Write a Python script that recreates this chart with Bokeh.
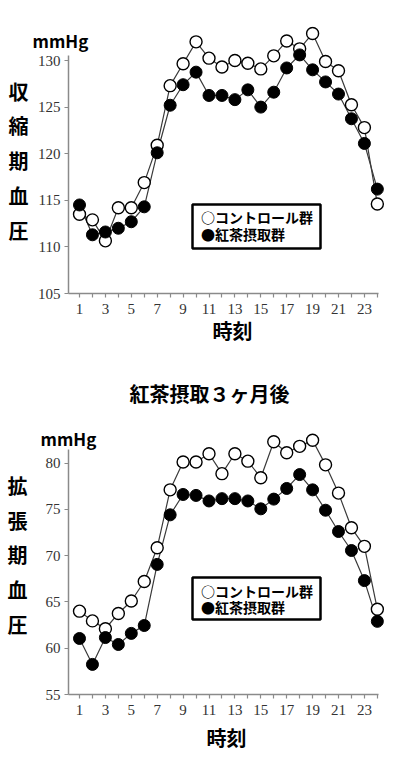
from bokeh.plotting import figure
from bokeh.layouts import column
from bokeh.models import FixedTicker, Label, BoxAnnotation
from bokeh.embed import file_html
from bokeh.resources import INLINE

# ---------------- data ----------------
hours = list(range(1, 25))
sys_control = [113.5, 112.9, 110.65, 114.2, 114.2, 116.9, 120.9, 127.3, 129.65, 132.0,
               130.25, 129.3, 130.0, 129.7, 129.1, 130.5, 132.1, 131.25, 132.9, 129.9,
               128.9, 125.25, 122.8, 114.6]
sys_tea = [114.5, 111.3, 111.6, 112.0, 112.7, 114.3, 120.1, 125.2, 127.4, 128.75,
           126.25, 126.25, 125.8, 126.85, 125.0, 126.6, 129.2, 130.6, 129.0, 127.7,
           126.4, 123.75, 121.1, 116.2]
dia_control = [64.0, 62.95, 62.1, 63.75, 65.1, 67.2, 70.85, 77.1, 80.1, 80.1,
               81.0, 78.85, 81.0, 80.2, 78.4, 82.3, 81.1, 81.8, 82.45, 79.8,
               76.75, 73.0, 71.0, 64.2]
dia_tea = [61.05, 58.25, 61.15, 60.4, 61.6, 62.45, 69.05, 74.4, 76.6, 76.5,
           75.9, 76.15, 76.15, 75.9, 75.05, 76.1, 77.25, 78.75, 77.1, 74.9,
           72.6, 70.55, 67.3, 62.9]
sys_ticks = [105, 110, 115, 120, 125, 130]
dia_ticks = [55, 60, 65, 70, 75, 80]
x_tick_labels = {h: (str(h) if h % 2 == 1 else "") for h in hours}
legend_labels = ["○コントロール群", "●紅茶摂取群"]
sys_title = "収\n縮\n期\n血\n圧"
dia_title = "拡\n張\n期\n血\n圧"
x_title = "時刻"
unit = "mmHg"
mid_title = "紅茶摂取３ヶ月後"

JP = "Noto Sans CJK JP"
TICK_FONT = "Liberation Sans Narrow"

WIDTH = 392
BL, BR = 68, 6
PX_PER_X = 12.95
X_START = 1 - (79 - BL) / PX_PER_X
X_END = X_START + (WIDTH - BL - BR) / PX_PER_X


def make_chart(ctrl, tea, ticks, y_start, axis_top, px_per_y, page_top, height,
               bt, bb, ytitle, ytitle_xy, unit_xy, xtitle_xy, legend_box,
               legend_ys, extra_title=None):
    frame_h = height - bt - bb
    y_end = y_start + frame_h / px_per_y
    frame_bottom_page = page_top + height - bb

    def dx(px):
        return X_START + (px - BL) / PX_PER_X

    def dy(py):
        return y_start + (frame_bottom_page - py) / px_per_y

    p = figure(width=WIDTH, height=height, x_range=(X_START, X_END),
               y_range=(y_start, y_end), output_backend="svg",
               toolbar_location=None, min_border_left=BL, min_border_right=BR,
               min_border_top=bt, min_border_bottom=bb)
    p.outline_line_color = None
    p.xgrid.visible = False
    p.ygrid.visible = False

    for ax in (p.xaxis[0], p.yaxis[0]):
        ax.axis_line_color = "#8a8a8a"
        ax.axis_line_width = 1.5
        ax.major_tick_line_color = "#8a8a8a"
        ax.major_tick_line_width = 1.2
        ax.major_tick_out = 4
        ax.major_tick_in = 0
        ax.minor_tick_line_color = None
        ax.major_label_text_font = TICK_FONT
        ax.major_label_text_font_size = "15px"
        ax.major_label_text_color = "#333333"
    p.xaxis.ticker = FixedTicker(ticks=hours)
    p.xaxis.major_label_overrides = x_tick_labels
    p.xaxis.bounds = (X_START, 24.09)
    p.xaxis.major_label_standoff = 6
    p.yaxis.ticker = FixedTicker(ticks=ticks)
    p.yaxis.bounds = (y_start, axis_top)
    p.yaxis.major_label_standoff = 4

    p.line(hours, ctrl, line_color="#3a3a3a", line_width=1.2)
    p.line(hours, tea, line_color="#3a3a3a", line_width=1.2)
    p.scatter(hours, ctrl, marker="circle", size=12, fill_color="white",
              line_color="black", line_width=1.4)
    p.scatter(hours, tea, marker="circle", size=12, fill_color="black",
              line_color="black", line_width=1.0)

    l, r, t, b = legend_box
    p.add_layout(BoxAnnotation(left=dx(l), right=dx(r), top=dy(t), bottom=dy(b),
                               fill_color="white", fill_alpha=1.0,
                               line_color="black", line_alpha=1.0, line_width=2.5))
    for txt, ly in zip(legend_labels, legend_ys):
        p.add_layout(Label(x=dx(l + 8.5), y=dy(ly), text=txt, text_font=JP,
                           text_font_style="bold", text_font_size="14px",
                           text_align="left", text_baseline="middle",
                           text_color="black"))

    p.add_layout(Label(x=dx(ytitle_xy[0]), y=dy(ytitle_xy[1]), text=ytitle,
                       text_font=JP, text_font_style="bold", text_font_size="20px",
                       text_line_height=1.2, text_color="black",
                       text_align="center", text_baseline="middle"), "left")
    if extra_title is not None:
        txt, tx, ty = extra_title
        p.add_layout(Label(x=dx(tx), y=dy(ty), text=txt, text_font=JP,
                           text_font_style="bold", text_font_size="20px",
                           text_color="black",
                           text_align="center", text_baseline="middle"), "above")
    p.add_layout(Label(x=dx(unit_xy[0]), y=dy(unit_xy[1]), text=unit, text_font=JP,
                       text_font_style="bold", text_font_size="17px",
                       text_color="black",
                       text_align="left", text_baseline="middle"), "above")
    p.add_layout(Label(x=dx(xtitle_xy[0]), y=dy(xtitle_xy[1]), text=x_title,
                       text_font=JP, text_font_style="bold", text_font_size="20px",
                       text_color="black",
                       text_align="center", text_baseline="middle"), "below")
    return p


p1 = make_chart(sys_control, sys_tea, sys_ticks, 105, 130.5, 9.32, 0, 365, 26, 72,
                sys_title, (18, 160.25), (32, 40), (232, 330),
                (192, 320, 204, 248), [216.7, 233])
p2 = make_chart(dia_control, dia_tea, dia_ticks, 55, 81.45, 9.26, 365, 394, 67, 65,
                dia_title, (17, 554.5), (40, 438), (226, 737),
                (192, 320, 577, 619), [590, 606.7],
                extra_title=(mid_title, 209, 393))

layout = column(p1, p2, spacing=0)
open("out.html", "w").write(file_html(layout, INLINE))
